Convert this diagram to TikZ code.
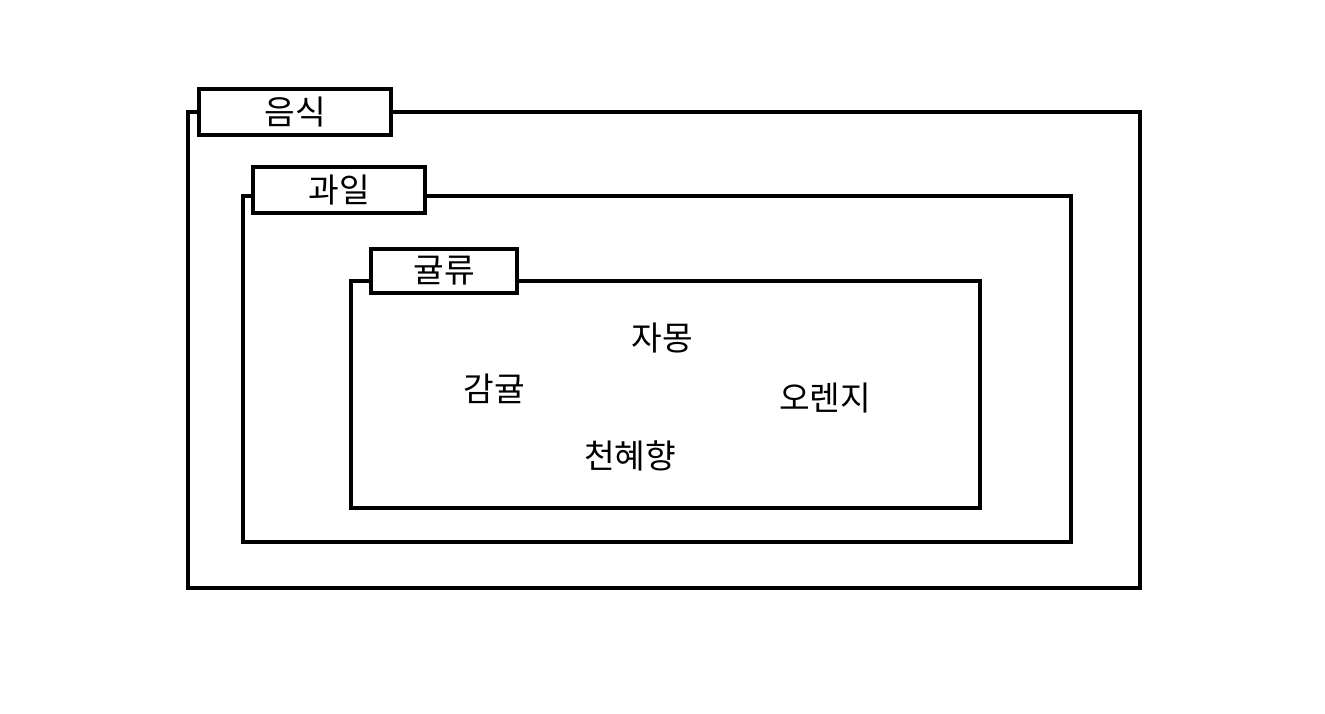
\documentclass[tikz,border=0pt]{standalone}
\usepackage{fontspec}
\newfontfamily\kor{Noto Sans CJK KR}
\usetikzlibrary{positioning}

\tikzset{
	box/.style={draw, line width=2.4pt},
	tab/.style={draw, fill=white, line width=2.4pt, inner sep=0pt,
		font=\kor\fontsize{25}{29}\selectfont},
	item/.style={font=\kor\fontsize{25}{29}\selectfont, inner sep=0pt}
}

\begin{document}
\begin{tikzpicture}[x=0.75pt,y=-0.75pt]

	\useasboundingbox (0,0) rectangle (1325,714);

	% outer package
	\draw[box] (188,112) rectangle (1140,588);
	\node[tab, minimum width=144pt, minimum height=34.5pt] (food) at (295,112) {음식};

	% middle package
	\draw[box] (243,196) rectangle (1071,542);
	\node[tab, minimum width=129pt, minimum height=34.5pt] (fruit) at (339,190) {과일};

	% inner package
	\draw[box] (351,281) rectangle (980,508);
	\node[tab, minimum width=109.5pt, minimum height=33pt] (citrus) at (444,271) {귤류};

	\node[item] (grapefruit) at (662,338) {자몽};
	\node[item] (tangerine) at (494,389) {감귤};
	\node[item] (orange) at (825,398) {오렌지};
	\node[item] (hallabong) at (630,456) {천혜향};

\end{tikzpicture}
\end{document}
